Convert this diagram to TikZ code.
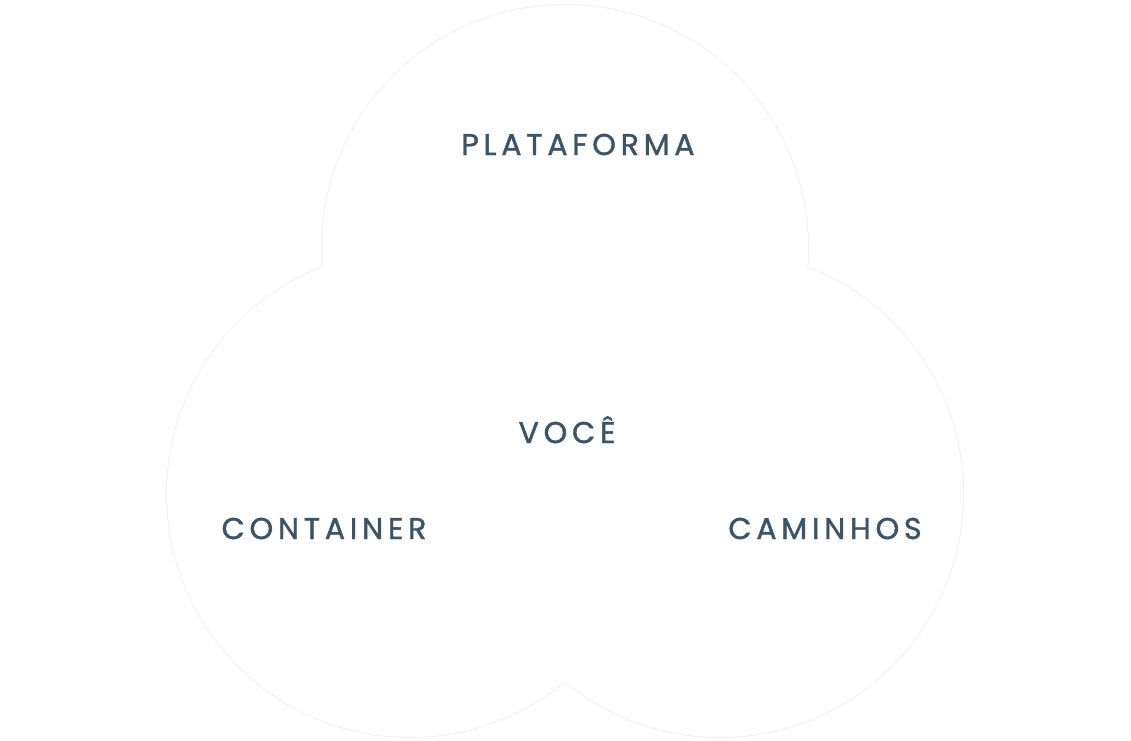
\documentclass[tikz,border=0pt]{standalone}
\usepackage{fontspec}
\usepackage{xcolor}
\usepackage{tikz}
\newfontfamily\labelfont[LetterSpace=16, FakeBold=1.3]{Poppins}
\definecolor{inkblue}{HTML}{3D5366}
\definecolor{ringgray}{HTML}{F0F0F0}
\tikzset{>=latex}
\tikzset{
    ring/.style={draw=ringgray, line width=2pt},
    ringfill/.style={fill=white},
    setlabel/.style={anchor=base, text=inkblue, inner sep=0pt, font=\labelfont\fontsize{30}{32}\selectfont}
}

\begin{document}
\begin{tikzpicture}[x=1pt, y=-1pt]
   \useasboundingbox (0, 0) rectangle (1131, 740);
   % circles: outer edge only
   \foreach \cx/\cy in {565/248, 410/494, 720/494}{
       \draw[ring] (\cx, \cy) circle[radius=243];
   }
   \foreach \cx/\cy in {565/248, 410/494, 720/494}{
       \fill[ringfill] (\cx, \cy) circle[radius=243];
   }

   % labels
   \node[setlabel] (plataforma) at (578, 155) {PLATAFORMA};
   \node[setlabel] (voce) at (567, 443) {VOCÊ};
   \node[setlabel] (container) at (324, 539) {CONTAINER};
   \node[setlabel] (caminhos) at (825, 539) {CAMINHOS};
\end{tikzpicture}
\end{document}
